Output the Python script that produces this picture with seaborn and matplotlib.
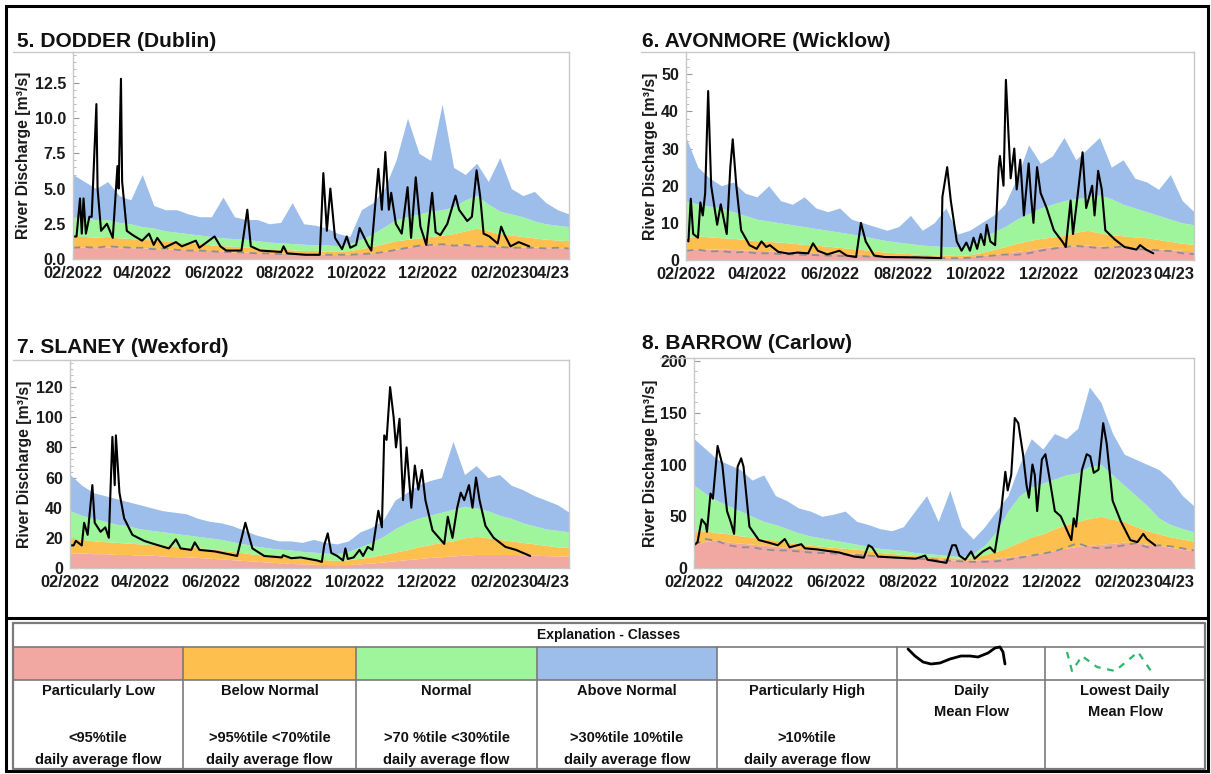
import numpy as np
import pandas as pd
import matplotlib
matplotlib.use("Agg")
import matplotlib.pyplot as plt
import matplotlib.dates as mdates
from matplotlib import font_manager as fm
from matplotlib.patches import Rectangle
from matplotlib.ticker import MultipleLocator, AutoMinorLocator, FuncFormatter
import seaborn as sns

# ---------------------------------------------------------------- data
START = "2022-02-01"
END = "2023-04-01"
tick_months = ["2022-02-01", "2022-04-01", "2022-06-01", "2022-08-01",
               "2022-10-01", "2022-12-01", "2023-02-01", "2023-04-01"]
tick_labels = ["02/2022", "04/2022", "06/2022", "08/2022",
               "10/2022", "12/2022", "02/2023", "04/23"]

# percentile class boundaries (44 points, Feb 2022 -> Apr 2023)
dodder_pink = [0.85,0.85,0.8, 0.85,0.8,0.8, 0.8,0.75,0.7, 0.7,0.65,0.6,0.6, 0.55,0.5,0.5, 0.45,0.45,0.4, 0.4,0.35,0.35, 0.35,0.3,0.35, 0.4,0.45,0.55, 0.7,0.85,0.95, 1.0,1.05,1.0, 1.0,1.0,0.95, 0.9,0.9,0.85, 0.85,0.8,0.8,0.8]
dodder_orange = [1.6,1.6,1.55, 1.6,1.5,1.45, 1.4,1.35,1.3, 1.2,1.15,1.1,1.0, 0.95,0.9,0.85, 0.8,0.75,0.7, 0.65,0.6,0.6, 0.55,0.55,0.6, 0.75,0.9,1.1, 1.3,1.4,1.5, 1.6,1.7,1.8, 2.0,2.2,2.0, 1.8,1.7,1.6, 1.5,1.4,1.35,1.3]
dodder_green = [3.0,2.9,2.8, 2.8,2.6,2.5, 2.3,2.2,2.0, 1.9,1.8,1.7,1.6, 1.5,1.45,1.4, 1.3,1.2,1.15, 1.1,1.05,1.0, 1.0,0.95,1.1, 1.4,1.8,2.3, 2.8,3.0,3.2, 3.4,3.5,3.7, 4.2,4.5,3.9, 3.4,3.2,3.0, 2.7,2.5,2.4,2.3]
dodder_blue = [6.0,5.5,5.0, 5.5,4.5,4.2, 6.0,3.8,3.5, 3.5,3.2,3.0,3.0, 4.4,3.0,2.8, 2.8,2.5,2.6, 4.0,2.5,2.4, 2.2,1.8,1.6, 3.5,4.0,5.0, 7.0,10.0,7.5, 7.0,11.0,6.5, 6.0,6.8,5.5, 7.2,5.0,4.5, 4.8,4.0,3.5,3.2]
dodder_lowest = [0.8,0.85,0.8, 0.9,0.85,0.8, 0.8,0.7,0.75, 0.65,0.6,0.6,0.55, 0.5,0.5,0.45, 0.4,0.4,0.35, 0.35,0.3,0.3, 0.3,0.3,0.3, 0.35,0.4,0.5, 0.65,0.8,0.95, 1.0,1.05,0.95, 1.0,0.9,0.9, 0.85,0.8,0.8, 0.8,0.75,0.8,0.75]

avonmore_pink = [3.0,3.0,2.9, 3.0,2.8,2.7, 2.6,2.5,2.4, 2.3,2.2,2.0,1.9, 1.8,1.6,1.5, 1.3,1.2,1.1, 1.0,0.9,0.9, 0.8,0.8,0.9, 1.2,1.5,1.9, 2.3,2.7,3.2, 3.6,3.8,3.8, 4.0,3.8,3.6, 3.6,3.4,3.2, 3.0,2.8,2.6,2.5]
avonmore_orange = [6.0,6.5,6.2, 6.0,5.8,5.5, 5.2,5.0,4.8, 4.5,4.2,4.0,3.7, 3.4,3.1,2.8, 2.4,2.1,1.9, 1.7,1.5,1.4, 1.3,1.2,1.4, 2.0,2.8,3.6, 4.5,5.2,5.8, 6.2,6.6,7.5, 8.0,7.3,6.8, 6.5,6.2,6.0, 5.5,5.0,4.5,4.2]
avonmore_green = [16,15,14.5, 14,13,12, 11,10.5,10, 9.5,9,8.5,8, 7.5,7,6.5, 5.8,5.2,4.8, 4.4,4.0,3.8, 3.6,3.5,4.0, 6,7.5,9, 11,12.5,14, 15,16,16.5, 17,17.5,16.5, 15,14,13, 12,11,10,9.5]
avonmore_blue = [33,25,22, 20,21,18, 17,20,16, 15,17,14,13, 14,11,10, 9,8,9, 12,8,10, 14,7,8, 10,12,15, 22,31,26, 28,33,27, 30,33,25, 27,22,21, 19,23,16,13]
avonmore_lowest = [2.5,2.8,2.3, 2.4,2.0,2.2, 1.8,1.8,1.6, 1.5,1.4,1.3,1.2, 1.1,1.0,1.0, 0.9,0.8,0.8, 0.7,0.7,0.6, 0.5,0.5,0.6, 0.9,1.2,1.5, 1.4,1.8,2.5, 3.0,3.5,3.8, 3.5,3.2,3.4, 3.6,3.0,2.8, 2.6,2.4,1.8,1.6]

slaney_pink = [10,10,9.5, 9.5,9,9, 8.5,8.5,8, 7.5,7.5,7,6.5, 6,5.5,5, 4.5,4,3.5, 3,2.8,2.5, 2.3,2.2,2.3, 2.8,3.3,4, 4.8,5.5,6.2, 7,7.5,8, 8.5,9,9, 9,9,8.8, 8.5,8.2,8,8]
slaney_orange = [20,19,18, 17.5,17,16.5, 16,15.5,15, 14.5,14,13.5,13, 12,11,10, 9,8.5,8, 7,6.5,6, 5.5,5,5.5, 6.5,7.5,9, 10.5,12,14, 15.5,17,18, 20,21,20, 19,18,17, 16,15,14,14]
slaney_green = [38,35,33, 31,29,28, 26,25,24, 23,22,21,20, 19,17.5,16, 14.5,13.5,12.5, 12,11,10.5, 10,9.5,11, 14,17,21, 26,30,33, 35,37,39, 41,40,38, 35,33,30, 28,26,25,24]
slaney_blue = [62,55,50, 48,46,44, 42,40,38, 37,36,33,31, 30,28,25, 22,20,18, 18,17,19, 17,16,18, 24,27,32, 45,50,55, 58,60,84, 62,68,60, 62,55,52, 48,45,42,37]
slaney_lowest = None

barrow_pink = [22,26,27, 25,24,23, 22,21,20, 19,18,17,16, 15,14,13, 12,11,10, 9.5,9,8.5, 8,7.5,7.5, 8.5,9.5,10.5, 12,13,15, 17,19,21, 22,23,24, 25,24,23, 22,20,18,17]
barrow_orange = [35,36,34, 33,31,30, 28,27,25, 23,22,21,20, 19,18,17, 15,14,13, 12,11.5,11, 10,9.5,10, 13,16,20, 25,30,33, 38,42,45, 48,50,47, 45,40,36, 33,30,28,26]
barrow_green = [80,72,65, 60,55,50, 45,42,38, 34,31,29,27, 25,23,21, 19,18,17, 15,14,13, 12,11,14, 22,35,55, 70,78,82, 86,90,92, 98,100,90, 80,70,60, 48,42,38,35]
barrow_blue = [125,115,105, 100,95,85, 90,70,65, 58,55,50,52, 55,45,42, 38,36,40, 55,70,45, 75,40,28, 40,55,70, 100,125,115, 130,125,135, 175,160,130, 110,105,100, 95,85,70,60]
barrow_lowest = [22,28,26, 22,20,20, 18,17,17, 16,15,14.5,14, 13,12.5,12, 11,10,9.5, 9,8.5,8, 7,6.5,6, 6,6.5,8, 10,12,14, 16,20,24, 20,19,20, 22,24,20, 22,21,19,17]

# daily mean flow (day offset from 1 Feb 2022, m3/s)
dodder_days = [0,3,6,7.5,9,11,14,16,20,21,24,29,34,38,39,41,42,46,51,59,65,69,72,78,88,93,105,108,121,126,131,144,149,152,160,178,180,183,199,211,214,217,220,224,230,234,237,242,245,252,255,261,264,267,270,272,276,281,286,289,293,297,302,307,310,314,320,327,330,337,341,345,348,351,356,363,366,369,374,381,390]
dodder_flow = [1.6,1.6,4.3,1.8,4.3,1.8,3.0,3.0,11.0,5.0,2.0,2.5,1.5,6.6,5.0,12.8,5.5,2.0,1.7,1.3,1.8,1.0,1.5,0.8,1.2,0.9,1.3,0.8,1.6,0.9,0.6,0.6,3.5,0.9,0.6,0.5,0.9,0.4,0.3,0.3,6.1,2.0,5.0,1.5,0.7,1.6,0.8,1.0,2.2,1.0,0.6,6.4,3.5,7.6,3.5,4.7,2.5,1.8,5.1,1.5,5.8,2.3,1.0,4.7,1.9,1.7,2.5,4.5,3.5,2.7,3.0,6.3,4.5,1.8,1.6,1.1,2.3,1.7,0.9,1.2,0.9]
avonmore_days = [0,2,4,6,10,12,14,16,18.5,21,26,29,34,37,39,42,46,53,59,63,67,70,77,86,93,102,106,110,118,128,134,142,146,150,157,166,192,213,214,218,221,226,230,234,237,240,243,246,249,251,254,258,261,262,265,267,269,271,274,276,279,282,286,288,290,293,296,301,307,314,317,321,323,326,331,334,339,341,344,347,350,358,366,376,379,384,390]
avonmore_flow = [5.5,5,16.5,7,6,15.5,12,18,45.5,20,9.5,15,7,25,32.5,20,8,4,3,5,3.5,4,2.2,1.7,2.0,1.8,4.5,2.5,1.5,2.5,1.2,0.8,10,5,1.2,0.8,0.7,0.5,17,25,16,5,2.5,4.7,2.5,6,3,7,4,9.5,5,4,25,28,20,48.5,35,22,30,19,27,12,26,17,10,25,18,14,8,5,3.5,16,7,15,29,14,20,12,24,19,8,5.5,3.5,2.8,4,2.8,1.8]
slaney_days = [0,3,5,10,12,15,19,21,26,30,33,36,38,39,42,46,53,63,71,84,90,94,103,106,110,123,142,149,155,165,180,181,188,196,210,214,216,219,222,227,232,234,236,241,246,249,253,257,262,265,267,269,272,275,277,280,283,286,290,293,296,299,302,308,318,321,325,329,332,335,339,342,345,348,353,360,370,379,391]
slaney_flow = [15,15,18,15,30,22,55,30,24,27,20,87,55,88,50,33,22,18,16,13,19,13,12,17,12,11,8,30,13,8,7,8.5,6.5,7,5,4,15,23,10,8,5,13,6,7,12,8,14,12,38,27,88,85,120,100,80,99,45,80,40,68,52,65,45,25,16,34,20,40,50,45,55,40,60,45,28,20,14,12,8]
barrow_days = [0,3,6.5,10,11,14,16,20,24,28,31,34,37,40,42,47,55,65,71,77,81,91,94,104,123,136,144,148,151,156,172,188,196,198,214,219,222,225,230,235,238,245,251,255,260,264,266,269,272,275,279,282,284,287,289,291,295,298,301,306,311,320,322,324,329,333,336,339,343,347,350,355,362,370,376,381,384,391]
barrow_flow = [22,25,47,42,35,72,67,118,100,55,45,33,98,106,98,40,27,24,22,28,20,23,19,18,15,11,10,22,20,11,10,9,12,8,5,22,22,12,8,16,9,16,20,15,50,93,75,90,145,140,110,80,68,100,90,55,105,110,90,55,50,27,48,40,95,110,108,92,95,140,120,65,45,27,25,33,28,22]

# legend table text
class_names = ["Particularly Low", "Below Normal", "Normal", "Above Normal",
               "Particularly High", "Daily\nMean Flow", "Lowest Daily\nMean Flow"]
class_ranges = ["<95%tile", ">95%tile <70%tile", ">70 %tile <30%tile",
                ">30%tile 10%tile", ">10%tile", "", ""]
# legend glyph shapes (pixel space of the figure)
glyph_wave_x = [908, 915, 923, 931, 940, 950, 961, 970, 978, 988, 995, 1000, 1003, 1005]
glyph_wave_y = [649, 656, 662, 664, 663, 659, 656, 656, 657, 653, 648, 647, 652, 664]
glyph_dash_x = [1067, 1072, 1082, 1097, 1115, 1138, 1151]
glyph_dash_y = [652, 671, 656, 667, 671, 652, 671]

# ---------------------------------------------------------------- style
sns.set_theme(style="white")


def pick(*names):
    for n in names:
        try:
            fm.findfont(fm.FontProperties(family=n), fallback_to_default=False)
            return n
        except Exception:
            pass
    return "DejaVu Sans"


CHART_FONT = pick("Liberation Sans Narrow", "Liberation Sans")
K = 1.0 if CHART_FONT == "Liberation Sans Narrow" else 0.84
TABLE_FONT = pick("Liberation Sans")
plt.rcParams["font.family"] = [CHART_FONT, "DejaVu Sans"]

PINK = "#F1A7A2"
ORANGE = "#FDBF4E"
GREEN = "#9EF59C"
BLUE = "#9DBDEB"

W, H = 1211, 774
fig = plt.figure(figsize=(W / 100, H / 100), dpi=100)
fig.patch.set_facecolor("white")


def rect_px(l, r, t, b):
    return [l / W, 1 - b / H, (r - l) / W, (b - t) / H]


band_dates = pd.date_range(START, END, periods=len(dodder_pink)).values
t0 = pd.Timestamp(START)

panels = [
    dict(title="5. DODDER (Dublin)", box=(73, 569, 52, 259), title_xy=(17, 47),
         ylab_x=24, ymax=14.7, step=2.5, fmt="{:.1f}",
         bands=(dodder_pink, dodder_orange, dodder_green, dodder_blue),
         lowest=dodder_lowest, days=dodder_days, flow=dodder_flow),
    dict(title="6. AVONMORE (Wicklow)", box=(686, 1194, 52, 260), title_xy=(642, 47),
         ylab_x=650, ymax=56, step=10, fmt="{:.0f}",
         bands=(avonmore_pink, avonmore_orange, avonmore_green, avonmore_blue),
         lowest=avonmore_lowest, days=avonmore_days, flow=avonmore_flow),
    dict(title="7. SLANEY (Wexford)", box=(70, 569, 360, 568), title_xy=(17, 353),
         ylab_x=25, ymax=138, step=20, fmt="{:.0f}",
         bands=(slaney_pink, slaney_orange, slaney_green, slaney_blue),
         lowest=slaney_lowest, days=slaney_days, flow=slaney_flow),
    dict(title="8. BARROW (Carlow)", box=(694, 1194, 358, 568), title_xy=(642, 349),
         ylab_x=650, ymax=203, step=50, fmt="{:.0f}",
         bands=(barrow_pink, barrow_orange, barrow_green, barrow_blue),
         lowest=barrow_lowest, days=barrow_days, flow=barrow_flow),
]

for p in panels:
    l, r, t, b = p["box"]
    ax = fig.add_axes(rect_px(l, r, t, b))
    ax.set_facecolor("white")
    pink, orange, green, blue = [np.asarray(v, float) for v in p["bands"]]
    ax.fill_between(band_dates, 0, pink, color=PINK, lw=0)
    ax.fill_between(band_dates, pink, orange, color=ORANGE, lw=0)
    ax.fill_between(band_dates, orange, green, color=GREEN, lw=0)
    ax.fill_between(band_dates, green, blue, color=BLUE, lw=0)
    if p["lowest"] is not None:
        sns.lineplot(x=band_dates, y=p["lowest"], ax=ax, color="#8f8f8f",
                     lw=1.3, linestyle=(0, (4, 3)), estimator=None)
    flow_dates = (t0 + pd.to_timedelta(p["days"], unit="D")).values
    sns.lineplot(x=flow_dates, y=p["flow"], ax=ax, color="black", lw=1.5,
                 estimator=None, sort=False)

    ax.set_xlim(pd.Timestamp(START), pd.Timestamp(END))
    ax.set_ylim(0, p["ymax"])
    ax.set_xticks(pd.to_datetime(tick_months))
    ax.set_xticklabels(tick_labels)
    ax.xaxis.set_minor_locator(mdates.MonthLocator())
    ax.yaxis.set_major_locator(MultipleLocator(p["step"]))
    ax.yaxis.set_minor_locator(AutoMinorLocator(5))
    ax.yaxis.set_major_formatter(FuncFormatter(lambda v, pos, f=p["fmt"]: f.format(v)))
    ax.tick_params(axis="x", which="major", direction="in", length=4, width=0.8,
                   color="#9a9a9a", pad=5, labelsize=14 * K, labelcolor="#1a1a1a")
    ax.tick_params(axis="y", which="major", direction="in", length=4, width=0.8,
                   color="#9a9a9a", pad=5, labelsize=11.5, labelcolor="#1a1a1a")
    ax.tick_params(which="minor", direction="in", length=2, width=0.6, color="#b0b0b0")
    ax.tick_params(left=True, bottom=True, which="both")
    for lab in ax.get_xticklabels() + ax.get_yticklabels():
        lab.set_fontweight("bold")
    ax.get_xticklabels()[-1].set_horizontalalignment("right")
    for s in ax.spines.values():
        s.set_color("#c8c8c8")
        s.set_linewidth(1.0)
    ax.set_xlabel("")
    ax.set_ylabel("River Discharge [m³/s]", fontsize=13.5 * K, fontweight="bold",
                  color="#1a1a1a")
    ax.yaxis.set_label_coords((p["ylab_x"] - l) / (r - l), 0.5)
    ax.yaxis.label.set_verticalalignment("center")
    fig.text(p["title_xy"][0] / W, 1 - p["title_xy"][1] / H, p["title"],
             fontsize=18 * K, fontweight="bold", color="#111111",
             ha="left", va="baseline")

# ---------------------------------------------------------------- overlay: frames and table
ov = fig.add_axes([0, 0, 1, 1], zorder=10)
ov.set_xlim(0, W)
ov.set_ylim(H, 0)
ov.axis("off")
ov.patch.set_alpha(0)

# gray header rules above plots
for p, x0 in zip(panels, [13, 641, 13, 660]):
    l, r, t, b = p["box"]
    ov.plot([x0, l], [t, t], color="#c8c8c8", lw=1.0)

# black frame
ov.plot([6, 1208, 1208, 6, 6], [6, 6, 771, 771, 6], color="black", lw=2.2,
        solid_joinstyle="miter")
ov.plot([6, 1208], [618, 618], color="black", lw=2.2)

col_edges = [13, 183, 356, 537, 717, 897, 1045, 1205]
top, hdr, crow, bot = 623, 647, 680, 769
cell_colors = [PINK, ORANGE, GREEN, BLUE, "white", "white", "white"]
for i, c in enumerate(cell_colors):
    ov.add_patch(Rectangle((col_edges[i], hdr), col_edges[i + 1] - col_edges[i],
                           crow - hdr, facecolor=c, edgecolor="none"))
gcol = "#7a7a7a"
ov.plot([col_edges[0], col_edges[-1], col_edges[-1], col_edges[0], col_edges[0]],
        [top, top, bot, bot, top], color=gcol, lw=1.6)
for yy in (hdr, crow):
    ov.plot([col_edges[0], col_edges[-1]], [yy, yy], color=gcol, lw=1.2)
for xx in col_edges[1:-1]:
    ov.plot([xx, xx], [hdr, bot], color=gcol, lw=1.2)

tfont = dict(family=TABLE_FONT, fontweight="bold", color="#111111")
TS = 10.5
ov.text((col_edges[0] + col_edges[-1]) / 2, 635, "Explanation - Classes",
        ha="center", va="center", fontsize=TS - 0.5, **tfont)
for i, (nm, rg) in enumerate(zip(class_names, class_ranges)):
    cx = (col_edges[i] + col_edges[i + 1]) / 2
    ov.text(cx, 684, nm, ha="center", va="top", fontsize=TS,
            linespacing=1.6, **tfont)
    if rg:
        ov.text(cx, 738, rg, ha="center", va="center", fontsize=TS, **tfont)
        ov.text(cx, 760, "daily average flow", ha="center", va="center",
                fontsize=TS, **tfont)

ov.plot(glyph_wave_x, glyph_wave_y, color="black", lw=2.0, solid_capstyle="round",
        solid_joinstyle="round")
ov.plot(glyph_dash_x, glyph_dash_y, color="#2DB86A", lw=1.6, linestyle=(0, (3, 3)))

fig.savefig("out.png", dpi=100, facecolor="white")
